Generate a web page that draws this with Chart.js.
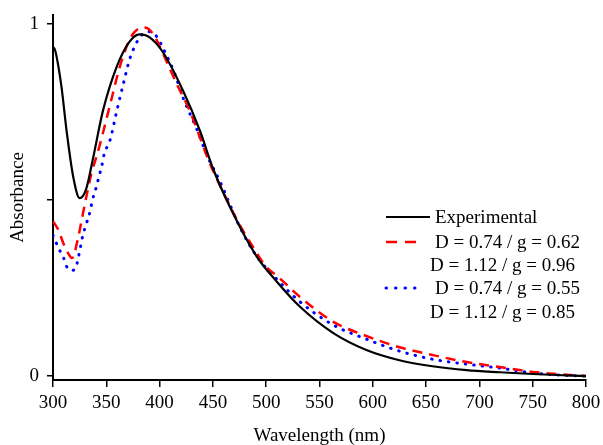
<!DOCTYPE html>
<html>
<head>
<meta charset="utf-8">
<script src="https://cdn.jsdelivr.net/npm/chart.js@4.4.1/dist/chart.umd.min.js"></script>
<style>
html,body{margin:0;padding:0;background:#fff;}
canvas{display:block;}
</style>
</head>
<body>
<canvas id="c" width="603" height="445"></canvas>
<script>
// ---- Data ----
const expWavelength = [300,302,305,308,313,319,325,331,337,347,360,372,381,390,403,422,438,450,466,491,510,532,563,594,625,656,688,719,750,782,800];
const expAbsorbance = [0.935,0.925,0.88,0.82,0.69,0.565,0.505,0.53,0.61,0.755,0.88,0.95,0.97,0.963,0.92,0.81,0.695,0.59,0.48,0.34,0.268,0.196,0.122,0.074,0.045,0.028,0.017,0.011,0.006,0.002,0.0];

const redWavelength = [300,305,310,314,318,323,328,332,336,341,346,351,356,361,366,371,376,384,390,397,407,416,428,447,460,475,490,500,510,532,563,594,625,656,688,719,750,782,800];
const redAbsorbance = [0.44,0.415,0.375,0.35,0.335,0.385,0.46,0.52,0.575,0.625,0.68,0.74,0.80,0.86,0.91,0.95,0.975,0.99,0.985,0.955,0.89,0.83,0.755,0.605,0.52,0.43,0.355,0.31,0.285,0.224,0.154,0.114,0.082,0.06,0.04,0.026,0.012,0.004,0.0];

const blueWavelength = [300,305,310,313,317,321,324,326,328,331,335,337,340,343,346,348,353.5,360,366,372,380,389,397,405,414,422,435,444,457,475,490,510,532,563,594,625,656,688,719,750,782,800];
const blueAbsorbance = [0.40,0.365,0.335,0.31,0.30,0.305,0.34,0.37,0.40,0.43,0.47,0.50,0.53,0.565,0.60,0.63,0.67,0.755,0.83,0.90,0.955,0.978,0.965,0.92,0.86,0.79,0.70,0.63,0.55,0.425,0.345,0.275,0.21,0.145,0.105,0.071,0.048,0.034,0.023,0.009,0.002,0.0];

const xTickStep = 50;
const yTickValues = [0, 0.5, 1];
const yTickLabels = {0: '0', 1: '1'};

const legendLabels = ['Experimental','D = 0.74 / g = 0.62','D = 1.12 / g = 0.96','D = 0.74 / g = 0.55','D = 1.12 / g = 0.85'];

const toPoints = (xs, ys) => xs.map((x, i) => ({x: x, y: ys[i]}));
const FONT = 'Liberation Serif';

const legendPlugin = {
  id: 'customLegend',
  afterDraw(chart) {
    const ctx = chart.ctx;
    ctx.save();
    ctx.font = '19px "' + FONT + '"';
    ctx.fillStyle = '#000';
    ctx.textBaseline = 'middle';
    const rows = [
      {y: 217, line: {color:'#000', dash:[], width:2.2, cap:'butt'}, tx: 435},
      {y: 242, line: {color:'#ff0000', dash:[11,8], width:2.5, cap:'butt'}, tx: 435},
      {y: 265, line: null, tx: 430},
      {y: 288, line: {color:'#0000ff', dash:[0.5,9], width:3, cap:'round'}, tx: 435},
      {y: 312, line: null, tx: 430}
    ];
    rows.forEach((r, i) => {
      if (r.line) {
        ctx.beginPath();
        ctx.setLineDash(r.line.dash);
        ctx.lineWidth = r.line.width;
        ctx.strokeStyle = r.line.color;
        ctx.lineCap = r.line.cap;
        ctx.moveTo(386, r.y);
        ctx.lineTo(i === 0 ? 430 : 424, r.y);
        ctx.stroke();
      }
      ctx.setLineDash([]);
      ctx.fillText(legendLabels[i], r.tx, r.y + 1);
    });
    ctx.restore();
  }
};

new Chart(document.getElementById('c'), {
  type: 'line',
  data: {
    datasets: [
      {
        label: legendLabels[0],
        data: toPoints(expWavelength, expAbsorbance),
        borderColor: '#000',
        borderWidth: 2.2,
        pointRadius: 0,
        cubicInterpolationMode: 'monotone',
        fill: false
      },
      {
        label: legendLabels[1],
        data: toPoints(redWavelength, redAbsorbance),
        borderColor: '#ff0000',
        borderWidth: 2.5,
        borderDash: [10, 7],
        pointRadius: 0,
        cubicInterpolationMode: 'monotone',
        fill: false
      },
      {
        label: legendLabels[3],
        data: toPoints(blueWavelength, blueAbsorbance),
        borderColor: '#0000ff',
        borderWidth: 3,
        borderDash: [0.5, 8],
        borderCapStyle: 'round',
        pointRadius: 0,
        cubicInterpolationMode: 'monotone',
        fill: false
      }
    ]
  },
  options: {
    responsive: false,
    animation: false,
    layout: {padding: {top: 15, right: 17, left: 0, bottom: 0}},
    plugins: {legend: {display: false}, tooltip: {enabled: false}},
    scales: {
      x: {
        type: 'linear',
        min: 300,
        max: 800,
        afterFit: (s) => { s.height = 65; s.paddingLeft = 0; s.paddingRight = 0; },
        ticks: {stepSize: xTickStep, color: '#000', font: {family: FONT, size: 19}, padding: 5, maxRotation: 0, autoSkip: false},
        grid: {display: true, drawOnChartArea: false, drawTicks: true, tickLength: 7, color: '#000', lineWidth: 1.5},
        border: {display: true, color: '#000', width: 2},
        title: {display: true, text: 'Wavelength (nm)', color: '#000', font: {family: FONT, size: 19, lineHeight: 0.9}, padding: {top: 0, bottom: 0}}
      },
      y: {
        min: -0.011,
        max: 1.025,
        afterFit: (s) => { s.width = 53; s.paddingTop = 0; s.paddingBottom = 0; },
        afterBuildTicks: (s) => { s.ticks = yTickValues.map(v => ({value: v})); },
        ticks: {color: '#000', font: {family: FONT, size: 19}, padding: 8, callback: (v) => (yTickLabels[v] !== undefined ? yTickLabels[v] : '')},
        grid: {display: true, drawOnChartArea: false, drawTicks: true, tickLength: 6, color: '#000', lineWidth: 1.5},
        border: {display: true, color: '#000', width: 2},
        title: {display: true, text: 'Absorbance', color: '#000', font: {family: FONT, size: 19}, padding: {top: 7, bottom: 0}}
      }
    }
  },
  plugins: [legendPlugin]
});
</script>
</body>
</html>
